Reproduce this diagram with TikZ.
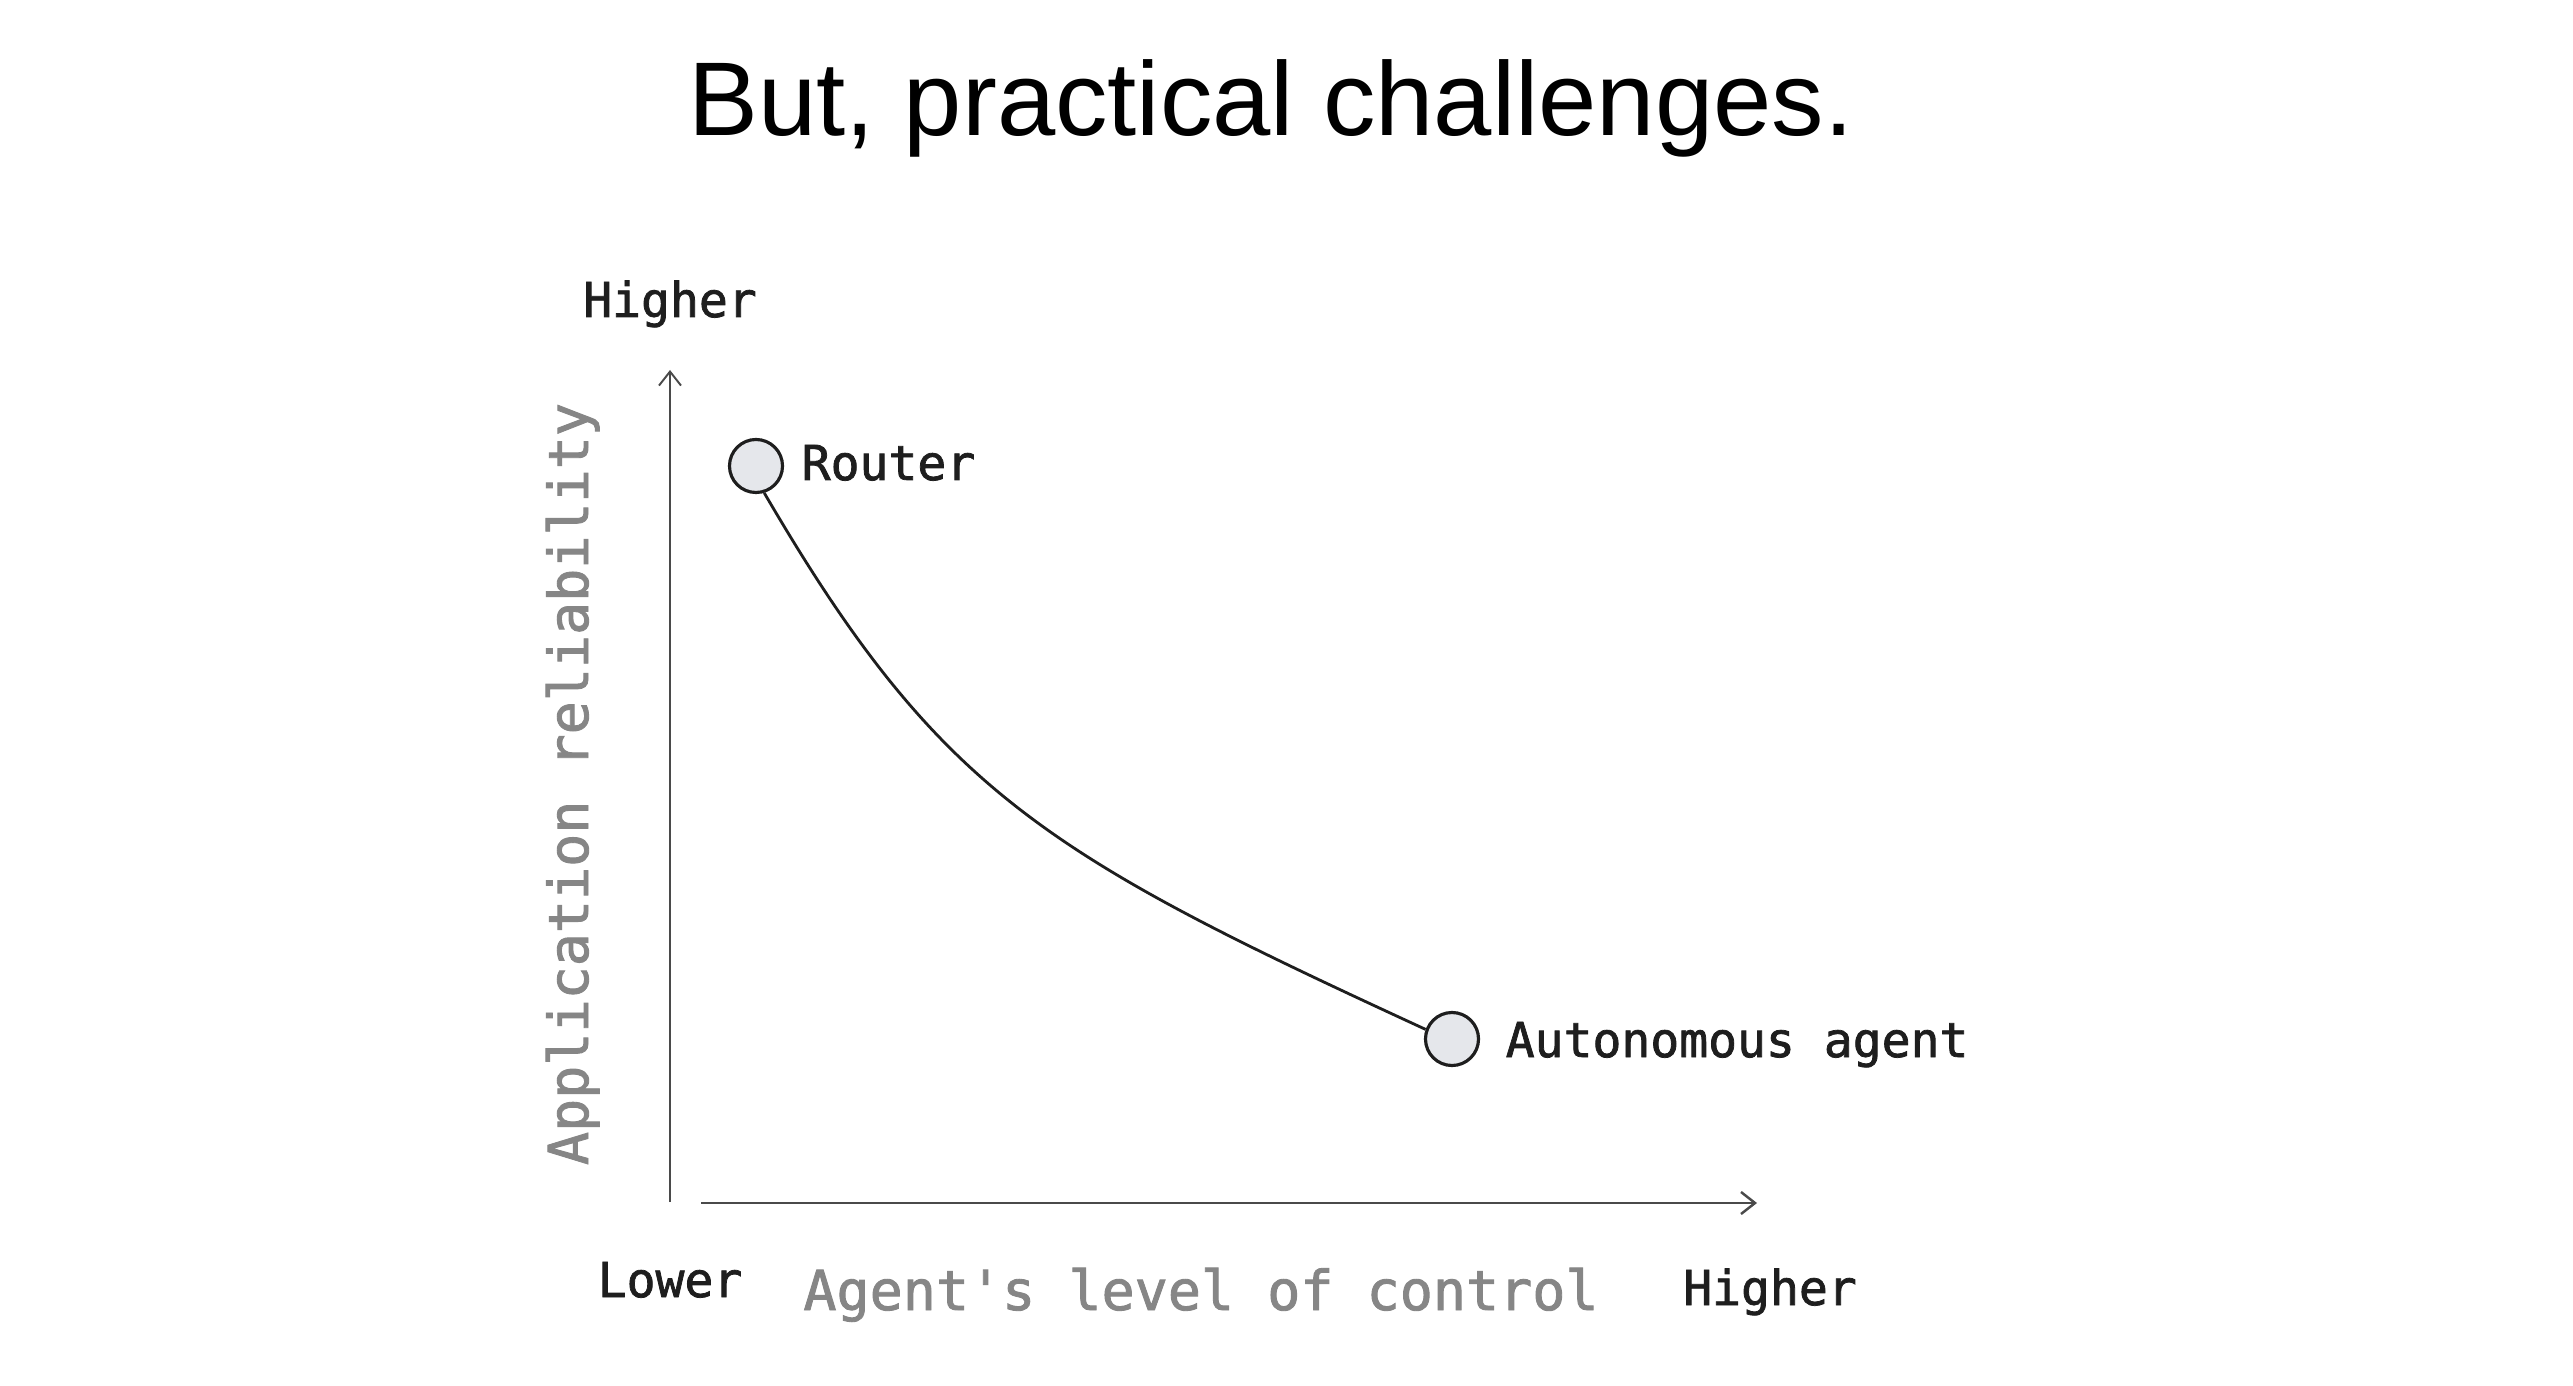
\documentclass[tikz,border=0pt]{standalone}
\usepackage{fontspec}
\newfontfamily\monofont[FakeBold=1.6]{DejaVu Sans Mono}
\newfontfamily\titlefont{Liberation Sans}
\usetikzlibrary{arrows.meta}
\definecolor{ink}{HTML}{1E1E1E}
\definecolor{graytxt}{HTML}{868686}
\definecolor{dotfill}{HTML}{E5E7EB}
\definecolor{axiscol}{HTML}{4A4A4A}
\begin{document}
\begin{tikzpicture}[x=0.01cm,y=-0.01cm,
  lbl/.style={inner sep=0pt, text=ink, font=\monofont\fontsize{13.66pt}{16pt}\selectfont},
  axtitle/.style={inner sep=0pt, text=graytxt, font=\monofont\fontsize{15.65pt}{18pt}\selectfont},
  dot/.style={circle, draw=ink, fill=dotfill, line width=0.9pt, minimum size=0.53cm, inner sep=0pt},
  axisline/.style={draw=axiscol, line width=0.55pt, -{Straight Barb[length=0.14cm,width=0.22cm]}},
  curveline/.style={draw=ink, line width=0.8pt}]
\useasboundingbox[fill=white] (0,0) rectangle (2573,1386);

\node[anchor=base, inner sep=0pt, text=black, font=\titlefont\fontsize{29.8pt}{34pt}\selectfont] (title) at (1271,136) {But, practical challenges.};

% axes
\coordinate (yb) at (670,1202);
\coordinate (yt) at (670,370);
\coordinate (xl) at (701,1203);
\coordinate (xr) at (1757,1203);
\draw[axisline] (yb) -- (yt);
\draw[axisline, line width=0.7pt] (xl) -- (xr);

% axis labels
\node[lbl, anchor=base] (yhigh) at (670,317) {Higher};
\node[lbl, anchor=base] (xlow) at (670,1297) {Lower};
\node[lbl, anchor=base] (xhigh) at (1770,1305) {Higher};
\node[axtitle, anchor=base] (xtitle) at (1201,1310) {Agent's level of control};
\node[axtitle, anchor=base, rotate=90] (ytitle) at (588,784) {Application reliability};

% points
\node[dot] (r) at (756,466) {};
\node[dot] (a) at (1452,1039) {};
\node[lbl, anchor=base west] (rl) at (801,480) {Router};
\node[lbl, anchor=base west] (al) at (1505,1057) {Autonomous agent};

% curve
\draw[curveline] (r.-73) .. controls +(175,300) and +(-380,-175) .. (a.160);
\end{tikzpicture}
\end{document}
